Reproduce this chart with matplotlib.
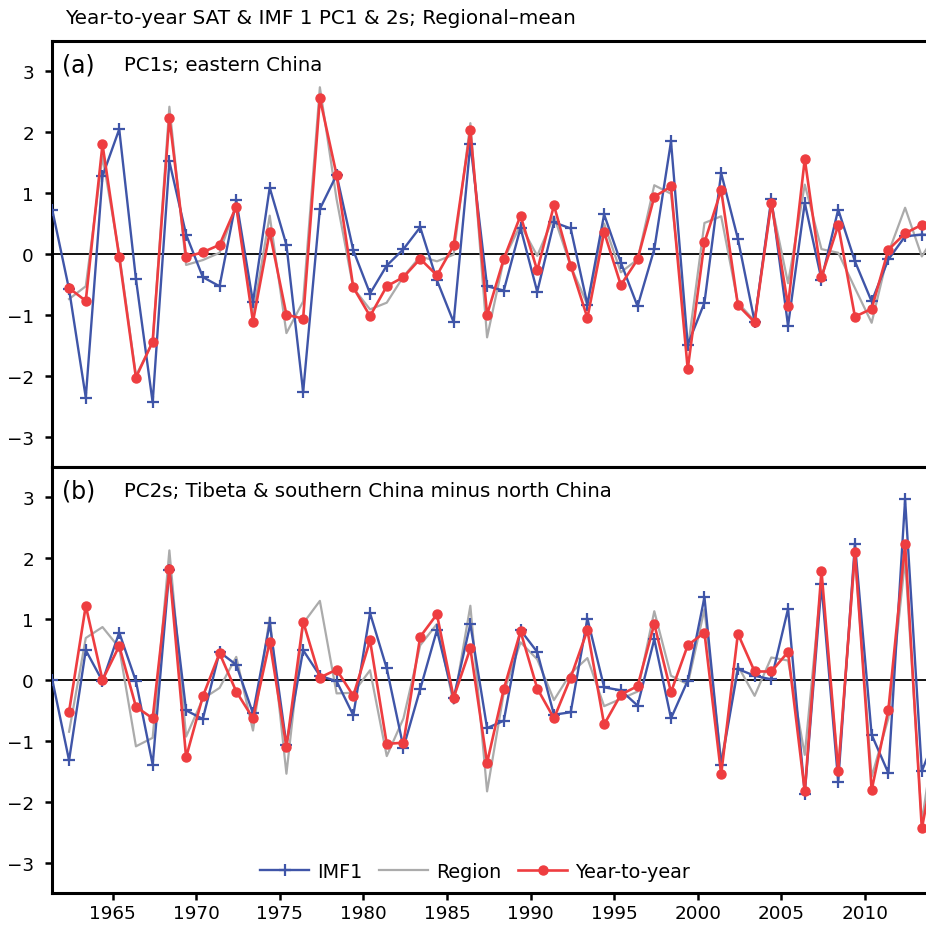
import numpy as np
import matplotlib
matplotlib.use("Agg")
import matplotlib.pyplot as plt

plt.rcParams['font.family'] = ['DejaVu Sans']

years_imf = list(range(1961, 2015))
years_obs = list(range(1962, 2015))

# Panel (a): PC1s; eastern China
imf_a = [0.72, -0.58, -2.36, 1.28, 2.05, -0.41, -2.44, 1.52, 0.32, -0.38,
         -0.53, 0.88, -0.79, 1.09, 0.15, -2.27, 0.74, 1.30, 0.06, -0.65,
         -0.19, 0.08, 0.44, -0.43, -1.12, 1.81, -0.53, -0.60, 0.43, -0.62,
         0.52, 0.42, -0.83, 0.65, -0.14, -0.86, 0.08, 1.85, -1.49, -0.80,
         1.33, 0.25, -1.11, 0.91, -1.18, 0.84, -0.42, 0.73, -0.12, -0.78,
         -0.09, 0.29, 0.32, 0.30]
region_a = [-0.74, -0.53, 1.60, 0.00, -2.00, -1.45, 2.42, -0.18, -0.10, 0.02,
            0.80, -1.00, 0.63, -1.30, -0.78, 2.74, 0.90, -0.56, -0.91, -0.80,
            -0.37, -0.04, -0.12, -0.01, 2.15, -1.37, -0.09, 0.48, -0.03, 0.62,
            -0.20, -0.83, 0.50, -0.30, -0.09, 1.13, 0.99, -1.57, 0.51, 0.62,
            -0.80, -1.10, 0.84, -0.48, 1.14, 0.08, 0.02, -0.56, -1.13, 0.02,
            0.76, -0.04, 0.40]
yty_a = [-0.56, -0.77, 1.80, -0.05, -2.03, -1.44, 2.24, -0.05, 0.03, 0.15,
         0.78, -1.11, 0.36, -1.00, -1.06, 2.56, 1.30, -0.55, -1.02, -0.53,
         -0.38, -0.08, -0.35, 0.14, 2.03, -1.00, -0.08, 0.63, -0.27, 0.80,
         -0.19, -1.05, 0.36, -0.51, -0.09, 0.94, 1.11, -1.89, 0.19, 1.05,
         -0.84, -1.12, 0.84, -0.85, 1.56, -0.38, 0.47, -1.03, -0.90, 0.07,
         0.34, 0.48, 0.55]

# Panel (b): PC2s; Tibeta & southern China minus north China
imf_b = [0.00, -1.32, 0.49, -0.02, 0.78, -0.02, -1.39, 1.81, -0.50, -0.64,
         0.46, 0.25, -0.55, 0.93, -1.06, 0.49, 0.07, -0.02, -0.58, 1.10,
         0.19, -1.11, -0.15, 0.82, -0.30, 0.92, -0.79, -0.67, 0.82, 0.46,
         -0.57, -0.53, 1.01, -0.12, -0.17, -0.42, 0.67, -0.63, -0.01, 1.36,
         -1.39, 0.18, 0.07, 0.01, 1.17, -1.87, 1.57, -1.67, 2.24, -0.90,
         -1.53, 2.97, -1.50, -0.80]
region_b = [-0.85, 0.69, 0.87, 0.53, -1.09, -0.95, 2.13, -0.93, -0.31, -0.13,
            0.38, -0.83, 1.03, -1.54, 0.93, 1.30, -0.22, -0.21, 0.16, -1.25,
            -0.63, 0.57, 0.92, -0.39, 1.22, -1.83, -0.21, 0.62, 0.34, -0.33,
            0.11, 0.36, -0.43, -0.31, -0.19, 1.13, 0.07, -0.07, 1.16, -1.34,
            0.23, -0.26, 0.37, 0.32, -1.23, 1.65, -1.48, 2.03, -1.59, -0.63,
            1.98, -2.33, -0.50]
yty_b = [-0.52, 1.22, 0.00, 0.56, -0.44, -0.63, 1.82, -1.27, -0.27, 0.44,
         -0.19, -0.63, 0.63, -1.10, 0.96, 0.04, 0.17, -0.26, 0.65, -1.05,
         -1.03, 0.71, 1.08, -0.29, 0.52, -1.36, -0.15, 0.80, -0.14, -0.63,
         0.04, 0.82, -0.73, -0.24, -0.10, 0.92, -0.20, 0.57, 0.78, -1.55,
         0.76, 0.14, 0.14, 0.46, -1.83, 1.79, -1.50, 2.11, -1.81, -0.49,
         2.24, -2.44, -1.00]

xtick_years = [1965, 1970, 1975, 1980, 1985, 1990, 1995, 2000, 2005, 2010]
yticks = [-3, -2, -1, 0, 1, 2, 3]

suptitle = "Year-to-year SAT & IMF 1 PC1 & 2s; Regional\u2013mean"
panel_tags = ["(a)", "(b)"]
panel_titles = ["PC1s; eastern China",
                "PC2s; Tibeta & southern China minus north China"]

BLUE = "#3f55a8"
GRAY = "#ababab"
RED = "#ee3d40"
OFF = 0.4  # plotting offset within the year

fig = plt.figure(figsize=(9.26, 9.28), dpi=100)
left, right = 52 / 926, 1.0
axa = fig.add_axes([left, 1 - 468 / 928, right - left, (468 - 42) / 928])
axb = fig.add_axes([left, 1 - 894 / 928, right - left, (894 - 468) / 928])

data = [(imf_a, region_a, yty_a), (imf_b, region_b, yty_b)]
xi = np.array(years_imf) + OFF
xo = np.array(years_obs) + OFF

for k, (ax, (imf, reg, yty)) in enumerate(zip([axa, axb], data)):
    ax.axhline(0, color="black", lw=1.3, zorder=1)
    l_reg, = ax.plot(xo, reg, color=GRAY, lw=1.6, zorder=2, label="Region")
    l_imf, = ax.plot(xi, imf, color=BLUE, lw=1.7, marker="+", ms=9, mew=1.6,
                     zorder=3, label="IMF1")
    l_yty, = ax.plot(xo, yty, color=RED, lw=1.9, marker="o", ms=6.5,
                     zorder=4, label="Year-to-year")
    ax.set_xlim(1961.38, 2013.65)
    ax.set_ylim(-3.5, 3.5)
    ax.set_yticks(yticks)
    ax.set_yticklabels([f"{v}".replace("-", "\u2212") for v in yticks])
    for s in ["left", "bottom", "top", "right"]:
        ax.spines[s].set_linewidth(2.2)
    ax.spines["right"].set_visible(False)
    ax.tick_params(axis="y", direction="out", length=5, width=1.8,
                   labelsize=13.2, pad=8)
    ax.tick_params(axis="x", direction="out", length=5, width=1.8,
                   labelsize=13.2, pad=3)
    ax.text(0.011, 0.945, panel_tags[k], transform=ax.transAxes,
            fontsize=17, va="center", ha="left")
    ax.text(0.082, 0.945, panel_titles[k], transform=ax.transAxes,
            fontsize=14.2, va="center", ha="left")

axa.set_xticks([])
axb.set_xticks(xtick_years)
axb.set_xticklabels([str(y) for y in xtick_years])

handles = [l_imf, l_reg, l_yty]
axb.legend(handles=handles, loc="lower center", bbox_to_anchor=(0.484, -0.012),
           ncol=3, frameon=False, fontsize=13.8, handlelength=2.55,
           handletextpad=0.4, columnspacing=0.9)

fig.text(65 / 926, 1 - 18 / 928, suptitle, fontsize=14.4, ha="left",
         va="center")

fig.savefig("out.png", dpi=100)
